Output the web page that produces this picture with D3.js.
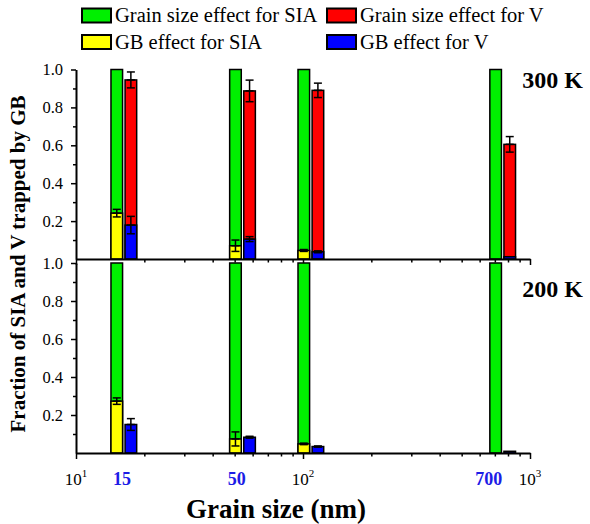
<!DOCTYPE html>
<html>
<head>
<meta charset="utf-8">
<script src="https://cdn.jsdelivr.net/npm/d3@7"></script>
<style>
  html, body { margin: 0; padding: 0; background: #fff; }
  svg { display: block; }
</style>
</head>
<body>
<svg id="chart" width="590" height="524"></svg>
<script>
// Grain sizes (nm) where the simulations were run
const grainSizes = [15, 50, 100, 700];
const grainLabels = ["15", "50", "", "700"];

// 300 K panel
const sia300 = [1, 1, 1, 1];                       // grain size effect for SIA
const gbSia300 = [0.242, 0.070, 0.045, 0];        // GB effect for SIA
const gbSia300Err = [0.020, 0.030, 0.005, 0];
const v300 = [0.945, 0.887, 0.890, 0.605];        // grain size effect for V
const v300Err = [0.042, 0.057, 0.038, 0.041];
const gbV300 = [0.179, 0.105, 0.038, 0.012];      // GB effect for V
const gbV300Err = [0.046, 0.013, 0.005, 0];

// 200 K panel
const sia200 = [1, 1, 1, 1];
const gbSia200 = [0.273, 0.074, 0.048, 0];
const gbSia200Err = [0.017, 0.037, 0.004, 0];
const v200 = [];                                   // no V grain size bars at 200 K
const v200Err = [];
const gbV200 = [0.150, 0.083, 0.034, 0.009];
const gbV200Err = [0.031, 0.005, 0.003, 0];

const yTickLabels = [0.2, 0.4, 0.6, 0.8, 1.0];
const yMinorTicks = [0.1, 0.3, 0.5, 0.7, 0.9];
const xDecades = [10, 100, 1000];
const xMinorTicks = [20, 30, 40, 50, 60, 70, 80, 90, 200, 300, 400, 500, 600, 700, 800, 900];

const legendItems = [
  { label: "Grain size effect for SIA", color: "#00f000" },
  { label: "Grain size effect for V", color: "#ff0000" },
  { label: "GB effect for SIA", color: "#ffff00" },
  { label: "GB effect for V", color: "#0000ff" }
];

const panels = [
  { temp: "300 K", sia: sia300, gbSia: gbSia300, gbSiaErr: gbSia300Err,
    v: v300, vErr: v300Err, gbV: gbV300, gbVErr: gbV300Err, top: 69.5, bottom: 259 },
  { temp: "200 K", sia: sia200, gbSia: gbSia200, gbSiaErr: gbSia200Err,
    v: v200, vErr: v200Err, gbV: gbV200, gbVErr: gbV200Err, top: 263, bottom: 453 }
];

const COLORS = { sia: "#00f000", v: "#ff0000", gbSia: "#ffff00", gbV: "#0000ff" };
const SERIF = "'Liberation Serif', 'Times New Roman', serif";

const svg = d3.select("#chart");
const left = 76, right = 530;

const x = d3.scaleLog().domain([10, 1000]).range([left, right]);

const barW = 11.6;
const siaOff = -5;     // SIA bar sits on the grain size value
const vOff = 9.1;      // V bar right next to it

function drawErr(g, cx, yScale, val, err) {
  if (!err) return;
  const y1 = yScale(val + err), y2 = yScale(val - err);
  g.append("line").attr("x1", cx).attr("x2", cx).attr("y1", y1).attr("y2", y2)
    .attr("stroke", "#000").attr("stroke-width", 1.5);
  [y1, y2].forEach(yy => g.append("line")
    .attr("x1", cx - 4).attr("x2", cx + 4).attr("y1", yy).attr("y2", yy)
    .attr("stroke", "#000").attr("stroke-width", 1.5));
  g.append("line").attr("x1", cx - 4).attr("x2", cx + 4)
    .attr("y1", yScale(val)).attr("y2", yScale(val))
    .attr("stroke", "#000").attr("stroke-width", 1.5);
}

panels.forEach(p => {
  const y = d3.scaleLinear().domain([0, 1]).range([p.bottom, p.top]);
  const g = svg.append("g");

  grainSizes.forEach((s, i) => {
    const xs = x(s) + siaOff, xv = x(s) + vOff;
    // SIA column: grain size effect with GB part on top of it
    g.append("rect").attr("x", xs).attr("width", barW)
      .attr("y", y(p.sia[i])).attr("height", y(0) - y(p.sia[i]))
      .attr("fill", COLORS.sia).attr("stroke", "#000").attr("stroke-width", 1.5);
    if (p.gbSia[i] > 0) {
      g.append("rect").attr("x", xs).attr("width", barW)
        .attr("y", y(p.gbSia[i])).attr("height", y(0) - y(p.gbSia[i]))
        .attr("fill", COLORS.gbSia).attr("stroke", "#000").attr("stroke-width", 1.5);
    }
    // V column
    if (p.v[i] !== undefined) {
      g.append("rect").attr("x", xv).attr("width", barW)
        .attr("y", y(p.v[i])).attr("height", y(0) - y(p.v[i]))
        .attr("fill", COLORS.v).attr("stroke", "#000").attr("stroke-width", 1.5);
    }
    if (p.gbV[i] > 0) {
      g.append("rect").attr("x", xv).attr("width", barW)
        .attr("y", y(p.gbV[i])).attr("height", y(0) - y(p.gbV[i]))
        .attr("fill", COLORS.gbV).attr("stroke", "#000").attr("stroke-width", 1.5);
    }
    // error bars
    if (p.gbSia[i] > 0) drawErr(g, xs + barW / 2, y, p.gbSia[i], p.gbSiaErr[i]);
    if (p.v[i] !== undefined) drawErr(g, xv + barW / 2, y, p.v[i], p.vErr[i]);
    if (p.gbV[i] > 0) drawErr(g, xv + barW / 2, y, p.gbV[i], p.gbVErr[i]);
  });

  // y axis (labels + major ticks)
  const ya = g.append("g").attr("transform", `translate(${left},0)`)
    .call(d3.axisLeft(y).tickValues(yTickLabels).tickFormat(d3.format(".1f"))
      .tickSize(5).tickPadding(8).tickSizeOuter(0));
  ya.select(".domain").attr("stroke-width", 2);
  ya.selectAll(".tick line").attr("stroke-width", 1.5);
  ya.selectAll("text").attr("font-family", SERIF).attr("font-size", 16.5).attr("fill", "#000");
  const ym = g.append("g").attr("transform", `translate(${left},0)`)
    .call(d3.axisLeft(y).tickValues(yMinorTicks).tickFormat("").tickSize(3).tickSizeOuter(0));
  ym.select(".domain").remove();
  ym.selectAll(".tick line").attr("stroke-width", 1.5);

  // x axis line with log ticks
  const xa = g.append("g").attr("transform", `translate(0,${p.bottom})`)
    .call(d3.axisBottom(x).tickValues(xDecades).tickFormat("").tickSize(6).tickSizeOuter(0));
  xa.select(".domain").attr("stroke-width", 2);
  xa.selectAll(".tick line").attr("stroke-width", 1.5);
  const xm = g.append("g").attr("transform", `translate(0,${p.bottom})`)
    .call(d3.axisBottom(x).tickValues(xMinorTicks).tickFormat("").tickSize(3.5).tickSizeOuter(0));
  xm.select(".domain").remove();
  xm.selectAll(".tick line").attr("stroke-width", 1.5);

  // temperature tag
  svg.append("text").attr("x", 583).attr("y", p.top + (p.temp === "300 K" ? 18.5 : 34))
    .attr("text-anchor", "end").attr("font-family", SERIF).attr("font-weight", "bold")
    .attr("font-size", 24).text(p.temp);
});

// decade labels 10^n
xDecades.forEach(d => {
  const t = svg.append("text").attr("x", x(d)).attr("y", 485)
    .attr("text-anchor", "middle").attr("font-family", SERIF).attr("font-size", 17);
  t.append("tspan").text("10");
  t.append("tspan").attr("font-size", 11).attr("dy", -8).text(Math.round(Math.log10(d)));
});

// grain size labels, nudged the way the axis labels were set
const labelNudge = [6, 2, 0, -6];
grainSizes.forEach((s, i) => {
  if (!grainLabels[i]) return;
  svg.append("text").attr("x", x(s) + labelNudge[i]).attr("y", 485)
    .attr("text-anchor", "middle").attr("font-family", SERIF).attr("font-weight", "bold")
    .attr("font-size", 18).attr("fill", "#1c1ce6").text(grainLabels[i]);
});

// axis titles
svg.append("text").attr("x", 276).attr("y", 518).attr("text-anchor", "middle")
  .attr("font-family", SERIF).attr("font-weight", "bold").attr("font-size", 27)
  .text("Grain size (nm)");
svg.append("text").attr("transform", "translate(25,264) rotate(-90)")
  .attr("text-anchor", "middle").attr("font-family", SERIF).attr("font-weight", "bold")
  .attr("font-size", 21).text("Fraction of SIA and V trapped by GB");

// legend
const leg = svg.append("g");
legendItems.forEach((d, i) => {
  const col = i % 2, row = Math.floor(i / 2);
  const lx = col === 0 ? 82 : 327, ly = row === 0 ? 8.5 : 35;
  leg.append("rect").attr("x", lx).attr("y", ly).attr("width", 29).attr("height", 14)
    .attr("fill", d.color).attr("stroke", "#000").attr("stroke-width", 2);
  leg.append("text").attr("x", lx + 33).attr("y", ly + 13.5)
    .attr("font-family", SERIF).attr("font-size", 20.5).text(d.label);
});
</script>
</body>
</html>
